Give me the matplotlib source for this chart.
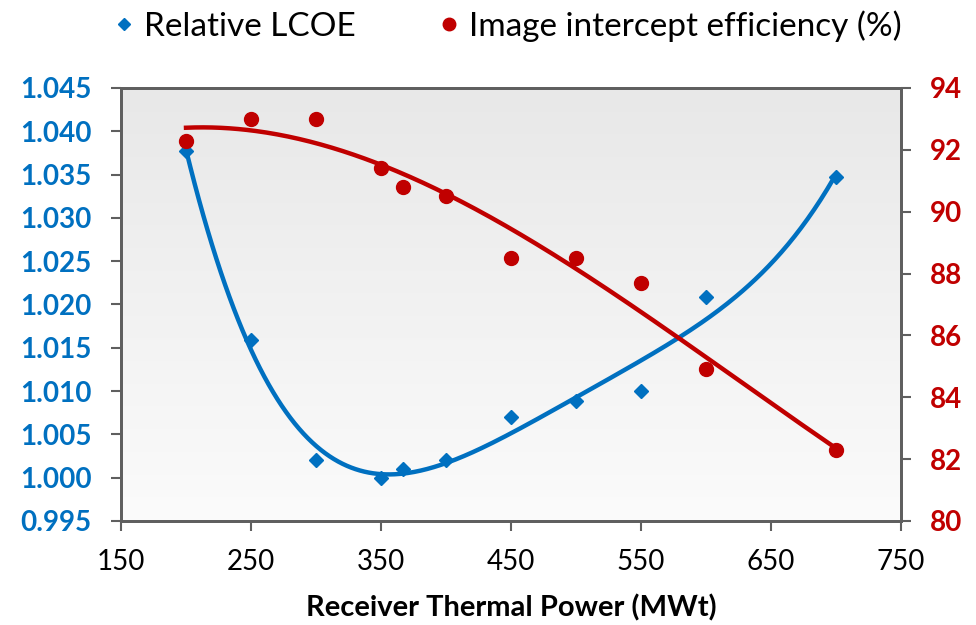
import numpy as np
import matplotlib
matplotlib.use("Agg")
import matplotlib.pyplot as plt
from matplotlib.lines import Line2D

power = [200, 250, 300, 350, 367, 400, 450, 500, 550, 600, 700]
lcoe = [1.0377, 1.0159, 1.0020, 1.0000, 1.0010, 1.0020, 1.0070, 1.0089, 1.0100, 1.0209, 1.0347]
eff = [92.3, 93.0, 93.0, 91.4, 90.8, 90.5, 88.5, 88.5, 87.7, 84.9, 82.3]

x_ticks = [150, 250, 350, 450, 550, 650, 750]
y1_ticks = [0.995, 1.000, 1.005, 1.010, 1.015, 1.020, 1.025, 1.030, 1.035, 1.040, 1.045]
y2_ticks = [80, 82, 84, 86, 88, 90, 92, 94]

BLUE = "#0070C0"
RED = "#C00000"
SPINE = "#5f5f5f"
plt.rcParams['font.family'] = ['Lato', 'DejaVu Sans']

fig = plt.figure(figsize=(9.76, 6.25), dpi=100)
ax = fig.add_axes([0.124, 0.1664, 0.799, 0.6928])
ax.set_xlim(150, 750)
ax.set_ylim(0.995, 1.045)

# gradient background
grad = np.linspace(0, 1, 256).reshape(-1, 1)
ax.imshow(grad, extent=[0, 1, 0, 1], transform=ax.transAxes, aspect='auto',
          cmap=matplotlib.colors.LinearSegmentedColormap.from_list('g', ['#fbfbfb', '#e8e8e8']),
          origin='lower', zorder=0)

ax2 = ax.twinx()
ax2.set_ylim(80, 94)

xs = np.linspace(min(power), max(power), 300)
p1 = np.polyfit(power, lcoe, 4)
p2 = np.polyfit(power, eff, 3)
ax.plot(xs, np.polyval(p1, xs), color=BLUE, lw=3.2, zorder=3)
ax.plot(power, lcoe, linestyle='none', marker='D', color=BLUE, ms=7, zorder=4)
ax2.plot(xs, np.polyval(p2, xs), color=RED, lw=3.2, zorder=3)
ax2.plot(power, eff, linestyle='none', marker='o', color=RED, ms=10, zorder=4)

ax.set_xticks(x_ticks)
ax.set_xticklabels([str(v) for v in x_ticks], fontsize=20, color='black')
ax.set_yticks(y1_ticks)
ax.set_yticklabels([f"{v:.3f}" for v in y1_ticks], fontsize=20, color=BLUE, fontweight='bold')
ax2.set_yticks(y2_ticks)
ax2.set_yticklabels([str(v) for v in y2_ticks], fontsize=20, color=RED, fontweight='bold')

for a in (ax, ax2):
    for s in a.spines.values():
        s.set_color(SPINE)
        s.set_linewidth(2)
    a.tick_params(direction='out', length=7, width=1.5, color=SPINE, pad=14)
ax.tick_params(axis='x', pad=13)

ax.set_xlabel("Receiver Thermal Power (MWt)", fontsize=21, fontweight='bold', labelpad=14)

handles = [Line2D([], [], linestyle='none', marker='D', color=BLUE, ms=6),
           Line2D([], [], linestyle='none', marker='o', color=RED, ms=9)]
fig.legend(handles, ["Relative LCOE", "Image intercept efficiency (%)"], loc='center',
           bbox_to_anchor=(0.517, 0.958), ncol=2, frameon=False, fontsize=24,
           handletextpad=0.1, columnspacing=2.3, handlelength=1.0)

fig.savefig("out.png", dpi=100)
